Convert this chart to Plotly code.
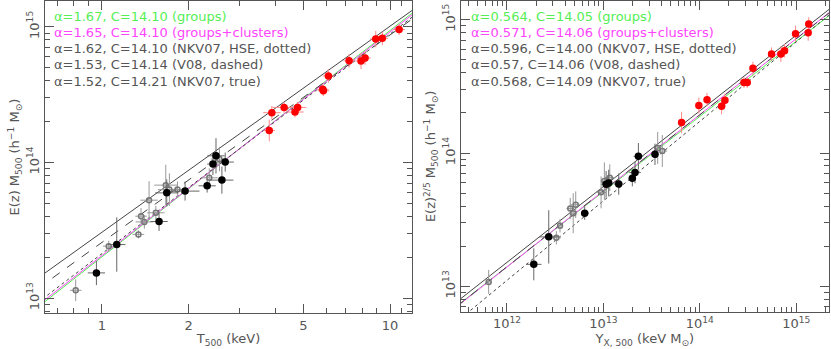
"""Mass-observable scaling relations: M500-T500 and M500-YX panels."""

import numpy as np
import plotly.graph_objects as go

# ---- left panel: E(z) M500 vs T500 (log10 of mass, errors in dex) ----
t_clusters = [3.89, 3.81, 4.29, 4.68, 4.78, 5.84, 5.87, 6.11, 7.21, 7.93, 8.19, 8.92, 9.40, 10.75]
m_clusters = [14.367, 14.236, 14.406, 14.372, 14.406, 14.539, 14.529, 14.638, 14.75, 14.748, 14.77, 14.91, 14.915, 14.98]
t_clusters_err = [0.03, 0.02, 0.04, 0.03, 0.03, 0.02, 0.02, 0.02, 0.02, 0.02, 0.02, 0.02, 0.02, 0.02]
m_clusters_err = [0.05, 0.08, 0.04, 0.04, 0.04, 0.04, 0.04, 0.05, 0.05, 0.06, 0.05, 0.06, 0.05, 0.04]

t_groups_a = [2.49, 2.43, 2.68, 2.61, 2.32, 1.945, 1.68, 1.58, 1.127, 0.958]
m_groups_a = [14.049, 13.988, 14.003, 13.87, 13.828, 13.789, 13.776, 13.565, 13.395, 13.186]
t_groups_a_err = [0.03, 0.02, 0.03, 0.04, 0.03, 0.05, 0.04, 0.03, 0.03, 0.03]
m_groups_a_err = [0.13, 0.08, 0.07, 0.10, 0.05, 0.07, 0.10, 0.07, 0.20, 0.09]

t_groups_b = [2.56, 2.36, 1.83, 1.716, 1.667, 1.459, 1.54, 1.368, 1.405, 1.34, 1.057, 0.812]
m_groups_b = [14.025, 13.887, 13.80, 13.80, 13.833, 13.722, 13.629, 13.604, 13.562, 13.47, 13.383, 13.058]
t_groups_b_err = [0.03, 0.03, 0.03, 0.04, 0.04, 0.03, 0.03, 0.02, 0.03, 0.02, 0.02, 0.02]
m_groups_b_err = [0.09, 0.07, 0.06, 0.12, 0.15, 0.14, 0.05, 0.06, 0.05, 0.03, 0.04, 0.08]

# ---- right panel: E(z)^2/5 M500 vs YX,500 (log10 values) ----
y_clusters = [13.811, 13.99, 14.075, 14.226, 14.261, 14.458, 14.492, 14.551, 14.744, 14.841, 14.879, 14.993, 15.124, 15.13]
ym_clusters = [14.229, 14.356, 14.40, 14.351, 14.396, 14.529, 14.529, 14.635, 14.742, 14.742, 14.767, 14.895, 14.902, 14.968]
y_clusters_err = [0.03, 0.03, 0.03, 0.03, 0.02, 0.02, 0.02, 0.02, 0.02, 0.02, 0.02, 0.02, 0.02, 0.02]
ym_clusters_err = [0.08, 0.06, 0.05, 0.06, 0.05, 0.04, 0.04, 0.05, 0.05, 0.06, 0.05, 0.06, 0.06, 0.05]

y_groups_a = [13.363, 13.535, 13.328, 13.30, 13.159, 13.055, 13.028, 12.806, 12.433, 12.278]
ym_groups_a = [13.975, 13.99, 13.853, 13.81, 13.767, 13.775, 13.765, 13.549, 13.371, 13.165]
y_groups_a_err = [0.05, 0.04, 0.06, 0.04, 0.05, 0.04, 0.05, 0.04, 0.10, 0.08]
ym_groups_a_err = [0.10, 0.08, 0.08, 0.06, 0.08, 0.10, 0.10, 0.05, 0.20, 0.12]

y_groups_b = [13.563, 13.611, 13.066, 13.01, 12.976, 12.713, 12.656, 12.687, 12.55, 12.512, 11.81]
ym_groups_b = [14.038, 14.015, 13.815, 13.79, 13.705, 13.612, 13.584, 13.549, 13.454, 13.364, 13.033]
y_groups_b_err = [0.04, 0.05, 0.05, 0.04, 0.05, 0.05, 0.04, 0.04, 0.03, 0.05, 0.03]
ym_groups_b_err = [0.12, 0.12, 0.10, 0.14, 0.12, 0.10, 0.08, 0.15, 0.05, 0.05, 0.09]

# ---- fitted relations: log M = C + alpha * log(X / pivot) ----
fits_t = [  # (alpha, C, label, colour, dash)
    (1.67, 14.10, "(groups)", "#55ee55", "solid"),
    (1.65, 14.10, "(groups+clusters)", "#ff44ff", "solid"),
    (1.62, 14.10, "(NKV07, HSE, dotted)", "#444444", "dot"),
    (1.53, 14.14, "(V08, dashed)", "#444444", "dash"),
    (1.52, 14.21, "(NKV07, true)", "#444444", "solid"),
]
fits_y = [
    (0.564, 14.05, "(groups)", "#55ee55", "solid"),
    (0.571, 14.06, "(groups+clusters)", "#ff44ff", "solid"),
    (0.596, 14.00, "(NKV07, HSE, dotted)", "#444444", "dot"),
    (0.57, 14.06, "(V08, dashed)", "#444444", "dash"),
    (0.568, 14.09, "(NKV07, true)", "#444444", "solid"),
]
pivot_t = 3.0
pivot_y = 4e13

AX = "#555555"
FONT = "DejaVu Sans"


def points(x, y, xerr, yerr, xlog, color, ecolor, symbol, size, xa, ya):
    x = np.asarray(x) if not xlog else 10 ** np.asarray(x)
    xe = np.asarray(xerr)
    ylin = 10 ** np.asarray(y)
    ye = np.asarray(yerr)
    return go.Scatter(
        x=x, y=ylin, mode="markers", xaxis=xa, yaxis=ya, showlegend=False,
        marker=dict(color=color, symbol=symbol, size=size,
                    line=dict(color=color, width=1.5)),
        error_x=dict(type="data", symmetric=False, array=x * (10 ** xe - 1),
                     arrayminus=x * (1 - 10 ** -xe), color=ecolor, thickness=1, width=0),
        error_y=dict(type="data", symmetric=False, array=ylin * (10 ** ye - 1),
                     arrayminus=ylin * (1 - 10 ** -ye), color=ecolor, thickness=1, width=0),
    )


fig = go.Figure()

# fit lines
for fits, pivot, xr, xa, ya in [(fits_t, pivot_t, (0.6, 12.5), "x", "y"),
                                (fits_y, pivot_y, (3e11, 2.5e15), "x2", "y2")]:
    xs = np.array(xr)
    for a, c, lab, col, dash in fits:
        fig.add_trace(go.Scatter(
            x=xs, y=10 ** (c + a * np.log10(xs / pivot)), mode="lines",
            xaxis=xa, yaxis=ya, showlegend=False, hoverinfo="skip",
            line=dict(color=col, width=1, dash=dash)))

# data points
fig.add_trace(points(t_groups_b, m_groups_b, t_groups_b_err, m_groups_b_err, False,
                     "#777777", "#999999", "circle-open", 5, "x", "y"))
fig.add_trace(points(t_groups_a, m_groups_a, t_groups_a_err, m_groups_a_err, False,
                     "#000000", "#666666", "circle", 6, "x", "y"))
fig.add_trace(points(t_clusters, m_clusters, t_clusters_err, m_clusters_err, False,
                     "#ff0000", "#ff8888", "circle", 6, "x", "y"))
fig.add_trace(points(y_groups_b, ym_groups_b, y_groups_b_err, ym_groups_b_err, True,
                     "#777777", "#999999", "circle-open", 5, "x2", "y2"))
fig.add_trace(points(y_groups_a, ym_groups_a, y_groups_a_err, ym_groups_a_err, True,
                     "#000000", "#666666", "circle", 6, "x2", "y2"))
fig.add_trace(points(y_clusters, ym_clusters, y_clusters_err, ym_clusters_err, True,
                     "#ff0000", "#ff8888", "circle", 6, "x2", "y2"))

axis_common = dict(type="log", showline=True, linecolor=AX, linewidth=1, mirror="allticks",
                   ticks="inside", ticklen=9, tickcolor=AX, showgrid=False, zeroline=False,
                   tickfont=dict(family=FONT, size=13, color=AX))
minor_common = dict(ticks="inside", ticklen=5, tickcolor=AX, showgrid=False)

t_minor = [0.7, 0.8, 0.9, 3, 4, 6, 7, 8, 9, 11, 12]
y_minor = [k * 10 ** e for e in (12, 13, 14) for k in range(2, 10)]
yx_minor = [k * 10 ** e for e in (11, 12, 13, 14, 15) for k in range(2, 10)]
mass_ticks = [1e13, 1e14, 1e15]
mass_text = ["10<sup>13</sup>", "10<sup>14</sup>", "10<sup>15</sup>"]
yx_ticks = [1e12, 1e13, 1e14, 1e15]
yx_text = ["10<sup>12</sup>", "10<sup>13</sup>", "10<sup>14</sup>", "10<sup>15</sup>"]

fig.update_layout(
    width=831, height=349, margin=dict(l=0, r=0, t=0, b=0),
    paper_bgcolor="white", plot_bgcolor="white",
    font=dict(family=FONT, color=AX),
    xaxis=dict(axis_common, domain=[0.0538, 0.4961], range=[-0.198, 1.077],
               tickvals=[1, 2, 5, 10], ticktext=["1", "2", "5", "10"],
               minor=dict(minor_common, tickvals=t_minor),
               title=dict(text="T<sub>500</sub> (keV)", standoff=2,
                          font=dict(family=FONT, size=13, color=AX))),
    yaxis=dict(axis_common, domain=[0.103, 0.997], range=[12.89, 15.19],
               tickvals=mass_ticks, ticktext=mass_text, tickangle=-90,
               minor=dict(minor_common, tickvals=y_minor),
               title=dict(text="E(z) M<sub>500</sub> (h<sup>−1</sup> M<sub>⊙</sub>)",
                          standoff=2, font=dict(family=FONT, size=13, color=AX))),
    xaxis2=dict(axis_common, domain=[0.5544, 0.9976], range=[11.52, 15.34], anchor="y2",
                tickvals=yx_ticks, ticktext=yx_text,
                minor=dict(minor_common, tickvals=yx_minor),
                title=dict(text="Y<sub>X, 500</sub> (keV M<sub>⊙</sub>)", standoff=2,
                           font=dict(family=FONT, size=13, color=AX))),
    yaxis2=dict(axis_common, domain=[0.107, 0.997], range=[12.81, 15.14], anchor="x2",
                tickvals=mass_ticks, ticktext=mass_text, tickangle=-90,
                minor=dict(minor_common, tickvals=y_minor),
                title=dict(text="E(z)<sup>2/5</sup> M<sub>500</sub> (h<sup>−1</sup> M<sub>⊙</sub>)",
                           standoff=2, font=dict(family=FONT, size=13, color=AX))),
)

# in-panel fit summaries
for fits, xpos, fmt in [(fits_t, 0.063, "{:.2f}"), (fits_y, 0.564, "{}")]:
    for i, (a, c, lab, col, dash) in enumerate(fits):
        color = col if col != "#444444" else AX
        fig.add_annotation(
            xref="paper", yref="paper", x=xpos, y=1 - (16 + 16.3 * i) / 349,
            xanchor="left", yanchor="middle", showarrow=False,
            text=f"α={fmt.format(a)}, C={c:.2f} {lab}",
            font=dict(family=FONT, size=13, color=color))

fig.write_html("out.html", config={"displayModeBar": False},
               post_script="document.body.style.margin='0';")
